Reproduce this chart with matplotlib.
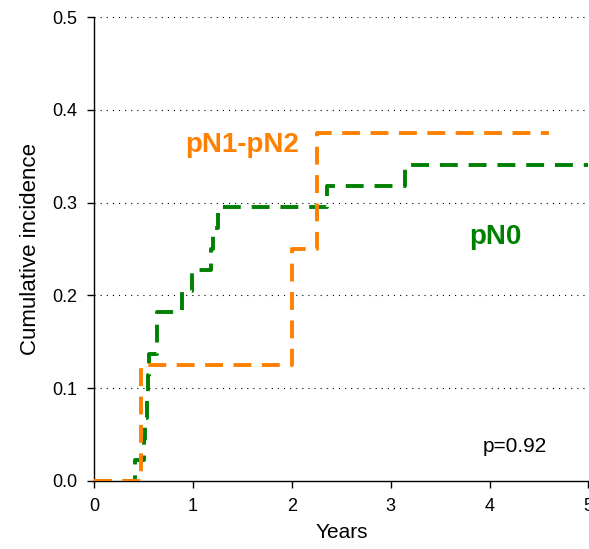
import matplotlib
matplotlib.use("Agg")
import matplotlib.pyplot as plt
import numpy as np

plt.rcParams['font.family'] = ['Liberation Sans', 'DejaVu Sans']

# Data (step functions, cumulative incidence)
green_times = [0, 0.41, 0.50, 0.51, 0.53, 0.54, 0.55, 0.63, 0.64, 0.885, 0.985,
               1.18, 1.20, 1.25, 2.36, 3.14, 5.0]
green_events = [0, 1, 2, 3, 4, 5, 6, 7, 8, 9, 10, 11, 12, 13, 14, 15, 15]
green_n = 44
orange_times = [0, 0.47, 2.0, 2.25, 4.6]
orange_events = [0, 1, 2, 3, 3]
orange_n = 8

green_vals = np.array(green_events) / green_n
orange_vals = np.array(orange_events) / orange_n

xticks = [0, 1, 2, 3, 4, 5]
yticks = [0.0, 0.1, 0.2, 0.3, 0.4, 0.5]

GREEN = '#008000'
ORANGE = '#FF8000'

fig = plt.figure(figsize=(5.89, 5.49), dpi=100)
ax = fig.add_axes([0.160, 0.124, 0.839, 0.845])

for y in yticks[1:]:
    ax.axhline(y, color='black', lw=0.8, linestyle=(0, (1, 4.5)), zorder=0)

ax.step(green_times, green_vals, where='post', color=GREEN, lw=2.8,
        dashes=(4.6, 2.8), zorder=3)
ax.step(orange_times, orange_vals, where='post', color=ORANGE, lw=2.8,
        dashes=(4.6, 2.7), zorder=4)

ax.set_xlim(0, 5)
ax.set_ylim(0, 0.5)
ax.set_xticks(xticks)
ax.set_yticks(yticks)
ax.set_yticklabels([f"{v:.1f}" for v in yticks])
ax.tick_params(direction='out', length=5, width=1, labelsize=13, pad=7)
for s in ['top', 'right']:
    ax.spines[s].set_visible(False)
for s in ['left', 'bottom']:
    ax.spines[s].set_linewidth(1.0)

ax.set_xlabel('Years', fontsize=15, labelpad=6)
ax.set_ylabel('Cumulative incidence', fontsize=16, labelpad=8)

ax.text(1.495, 0.362, 'pN1-pN2', color=ORANGE, fontsize=20, fontweight='bold',
        ha='center', va='center')
ax.text(4.06, 0.263, 'pN0', color=GREEN, fontsize=20, fontweight='bold',
        ha='center', va='center')
ax.text(4.26, 0.037, 'p=0.92', color='black', fontsize=15,
        ha='center', va='center')

fig.savefig('out.png', dpi=100)
